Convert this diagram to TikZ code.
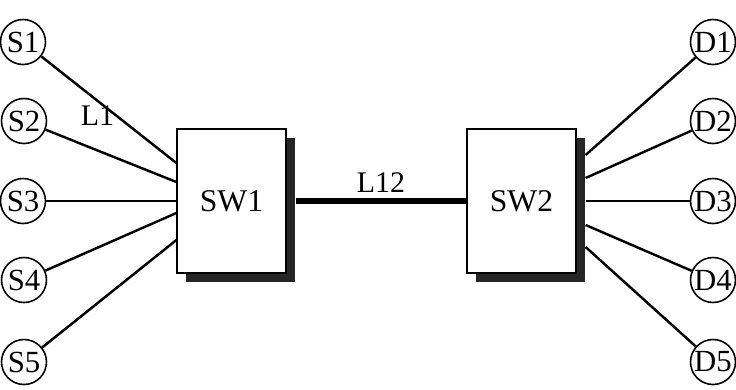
\documentclass[tikz,border=0pt]{standalone}
\usepackage{fontspec}
\setmainfont{Liberation Serif}
\usepackage{tikz}
\usetikzlibrary{positioning, shadows}

\begin{document}
\begin{tikzpicture}[
        host/.style={draw, circle, line width=0.9pt, minimum size=0.9cm, inner sep=0pt, font=\fontsize{17.5}{19}\selectfont},
        switch/.style={draw, fill=white, line width=0.7pt, minimum width=2.18cm, minimum height=2.88cm, font=\fontsize{18}{20}\selectfont,
          drop shadow={shadow xshift=0.18cm, shadow yshift=-0.18cm, fill=black!85, opacity=1}},
        link/.style={line width=1.4pt},
        trunk/.style={line width=3.6pt},
        lbl/.style={font=\fontsize{17}{19}\selectfont, inner sep=1pt}
      ]
        \useasboundingbox (0,0) rectangle (14.72,-7.78);

        % switches
        \node[switch] (sw1) at (4.63,-4.02) {SW1};
        \node[switch] (sw2) at (10.43,-4.02) {SW2};

        % sources
        \node[host] (s1) at (0.46,-0.84) {S1};
        \node[host] (s2) at (0.48,-2.42) {S2};
        \node[host] (s3) at (0.46,-4.02) {S3};
        \node[host] (s4) at (0.48,-5.60) {S4};
        \node[host] (s5) at (0.48,-7.24) {S5};

        % destinations
        \node[host] (d1) at (14.26,-0.84) {D1};
        \node[host] (d2) at (14.26,-2.42) {D2};
        \node[host] (d3) at (14.26,-4.02) {D3};
        \node[host] (d4) at (14.26,-5.60) {D4};
        \node[host] (d5) at (14.26,-7.24) {D5};

        \draw[link] (s1) -- ([yshift=0.76cm]sw1.west) node[lbl, pos=0.56, anchor=east] {L1};
        \draw[link] (s2) -- ([yshift=0.38cm]sw1.west);
        \draw[link] (s3) -- (sw1.west);
        \draw[link] (s4) -- ([yshift=-0.24cm]sw1.west);
        \draw[link] (s5) -- ([yshift=-0.78cm]sw1.west);

        \draw[link] ([xshift=0.18cm, yshift=0.92cm]sw2.east) -- (d1);
        \draw[link] ([xshift=0.18cm, yshift=0.46cm]sw2.east) -- (d2);
        \draw[link] ([xshift=0.18cm]sw2.east) -- (d3);
        \draw[link] ([xshift=0.18cm, yshift=-0.48cm]sw2.east) -- (d4);
        \draw[link] ([xshift=0.18cm, yshift=-0.92cm]sw2.east) -- (d5);

        \draw[trunk] ([xshift=0.18cm]sw1.east) -- (sw2.west) node[lbl, midway, above=2pt] {L12};
      \end{tikzpicture}
\end{document}
